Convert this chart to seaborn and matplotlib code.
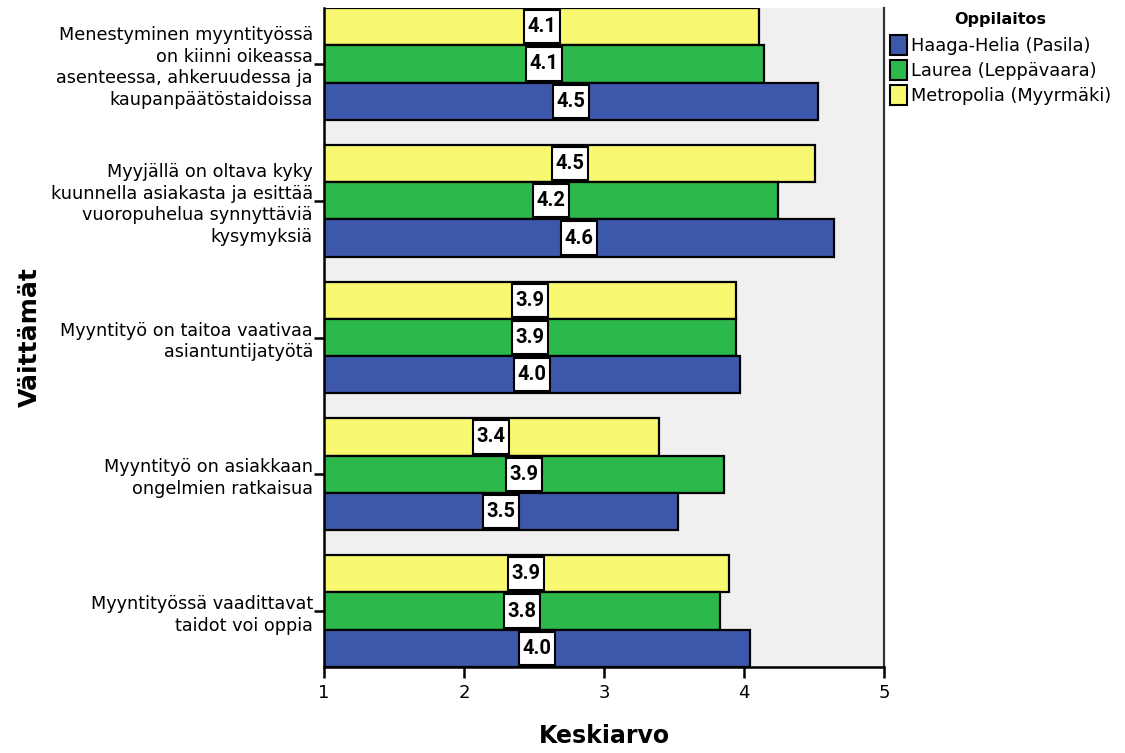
import matplotlib
matplotlib.use("Agg")
import matplotlib.pyplot as plt
import pandas as pd
import seaborn as sns
from matplotlib.patches import Patch, Rectangle

# Statements (category axis), wrapped as they appear on the axis
statements = [
    "Menestyminen myyntityössä\non kiinni oikeassa\nasenteessa, ahkeruudessa ja\nkaupanpäätöstaidoissa",
    "Myyjällä on oltava kyky\nkuunnella asiakasta ja esittää\nvuoropuhelua synnyttäviä\nkysymyksiä",
    "Myyntityö on taitoa vaativaa\nasiantuntijatyötä",
    "Myyntityö on asiakkaan\nongelmien ratkaisua",
    "Myyntityössä vaadittavat\ntaidot voi oppia",
]

schools = ["Haaga-Helia (Pasila)", "Laurea (Leppävaara)", "Metropolia (Myyrmäki)"]

# Mean score per statement for each school
haaga_helia = [4.53, 4.64, 3.97, 3.53, 4.04]
laurea = [4.14, 4.24, 3.94, 3.86, 3.83]
metropolia = [4.11, 4.51, 3.94, 3.39, 3.89]

x_ticks = [1, 2, 3, 4, 5]

palette = {
    "Haaga-Helia (Pasila)": "#3d58ab",
    "Laurea (Leppävaara)": "#2db84b",
    "Metropolia (Myyrmäki)": "#f9f871",
}

rows = []
for school, vals in zip(schools, [haaga_helia, laurea, metropolia]):
    for stmt, v in zip(statements, vals):
        rows.append({"Väittämät": stmt, "Keskiarvo": v, "Oppilaitos": school})
df = pd.DataFrame(rows)

sns.set_theme(style="white")
plt.rcParams["font.family"] = ["DejaVu Sans"]
for key in ["text.color", "axes.labelcolor", "xtick.color", "ytick.color"]:
    plt.rcParams[key] = "black"

W, H = 1125, 753
fig = plt.figure(figsize=(W / 100, H / 100), dpi=100)
ax = fig.add_axes([324 / W, 86 / H, 560 / W, 659 / H])
ax.set_facecolor("#f0f0f0")

# Metropolia on top of each group, Haaga-Helia at the bottom
sns.barplot(
    data=df, y="Väittämät", x="Keskiarvo", hue="Oppilaitos",
    hue_order=schools[::-1], order=statements, palette=palette,
    saturation=1, orient="h", width=0.818, dodge=True, errorbar=None,
    edgecolor="black", linewidth=1.6, legend=False, ax=ax,
)

ax.set_xlim(1, 5)
ax.set_ylim(4.409, -0.409)
ax.set_xticks(x_ticks)
ax.set_xticklabels([str(t) for t in x_ticks], fontsize=13)
ax.tick_params(axis="x", bottom=True, direction="out", length=8, width=1.8, color="black", pad=4)
ax.tick_params(axis="y", left=True, direction="out", length=7, width=1.8, color="black", pad=1, labelsize=12.7)

for side in ["left", "bottom"]:
    ax.spines[side].set_color("black")
    ax.spines[side].set_linewidth(1.8)
ax.spines["right"].set_color("#333333")
ax.spines["right"].set_linewidth(1.6)
ax.spines["top"].set_visible(False)

for lbl in ax.get_yticklabels():
    lbl.set_horizontalalignment("right")
    lbl.set_multialignment("right")
    lbl.set_linespacing(1.25)

ax.set_xlabel("Keskiarvo", fontsize=17, fontweight="bold", labelpad=16)
ax.set_ylabel("Väittämät", fontsize=18, fontweight="bold", labelpad=0)
ax.yaxis.set_label_coords(-282 / 560, 0.5)

# Value labels in white boxes, centred on each bar
px_per_unit = 560 / 4
box_w = 36 / px_per_unit
for container in ax.containers:
    for bar in container:
        v = bar.get_width()
        h = bar.get_height()
        yc = bar.get_y() + h / 2
        xc = (1 + v) / 2
        bh = h * 0.89
        ax.add_patch(Rectangle((xc - box_w / 2, yc - bh / 2), box_w, bh,
                               facecolor="white", edgecolor="black", lw=1.5, zorder=5))
        ax.text(xc, yc, f"{v:.1f}", ha="center", va="center", zorder=6,
                fontsize=14.5, fontweight="bold", color="black",
                family=["Roboto", "DejaVu Sans"])

handles = [Patch(facecolor=palette[s], edgecolor="black", linewidth=1.5, label=s) for s in schools]
leg = fig.legend(
    handles=handles, title="Oppilaitos", loc="upper left",
    bbox_to_anchor=(886 / W, 1 - 8 / H), frameon=False,
    fontsize=12.8, title_fontsize=11.5, handlelength=1.0, handleheight=1.4,
    handletextpad=0.2, labelspacing=0.25, borderaxespad=0, borderpad=0.2,
)
leg.get_title().set_fontweight("bold")
leg._legend_box.sep = 6

fig.savefig("out.png", dpi=100, facecolor="white")
